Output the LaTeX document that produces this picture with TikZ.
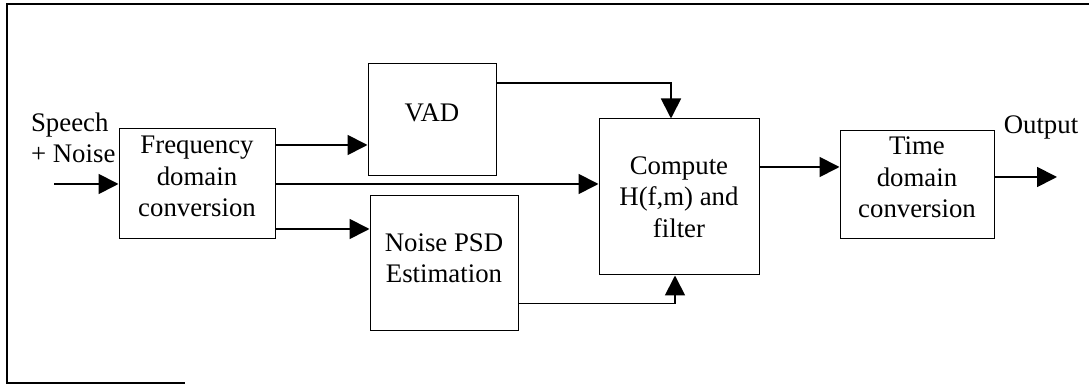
\documentclass[tikz,border=0pt]{standalone}
\usepackage{fontspec}
\setmainfont{Liberation Serif}
\usetikzlibrary{arrows.meta,positioning}
% extra empty line at the bottom, lifts the text in its box
\newcommand{\lift}[1]{\\[#1]\mbox{}}

\begin{document}
\begin{tikzpicture}[
  x=0.5pt,y=0.5pt,
  every node/.style={font=\fontsize{13.4}{15.75}\selectfont},
  B/.style={draw,line width=0.5pt,align=center,inner sep=0pt},
  ar/.style={-{Triangle[length=10pt,width=10pt]},line width=0.9pt},
  fr/.style={line width=0.8pt}
]
\useasboundingbox (0,0) rectangle (1089,385);
% frame (scanned, open on the right)
\draw[fr] (1089,381) -- (7,381) -- (7,2) -- (185,2);

\node[B,minimum width=78pt,minimum height=55pt] (F) at (197,201)
     {Frequency\\domain\\conversion\lift{-8pt}};
\node[B,minimum width=64pt,minimum height=56pt] (V) at (432,265)
     {VAD\lift{-8pt}};
\node[B,minimum width=74pt,minimum height=67.5pt] (N) at (444,121.5)
     {Noise PSD\\Estimation\lift{-10.5pt}};
\node[B,minimum width=80pt,minimum height=78pt] (C) at (679,188)
     {Compute\\H(f,m) and\\filter};
\node[B,minimum width=77pt,minimum height=54pt] (T) at (917,200)
     {Time\\domain\\conversion\lift{-8pt}};

\node[align=left,anchor=west] (in-lbl) at (24,247) {Speech\\+ Noise};
\node (out-lbl) at (1041,258) {Output};
\coordinate (in) at (54,201);
\coordinate (out) at (1057,208);

\draw[ar] (in) -- (in -| F.west);
\draw[ar] ([yshift=19.5pt]F.east) -- ([yshift=19.5pt]F.east -| V.west);
\draw[ar] (F.east) -- (F.east -| C.west);
\draw[ar] ([yshift=-22.5pt]F.east) -- ([yshift=-22.5pt]F.east -| N.west);
\draw[ar] ([yshift=18.5pt]V.east) -| ([xshift=-4pt]C.north);
\draw[ar] ([yshift=-20pt]N.east) -| ([xshift=-2pt]C.south);
\draw[ar] ([yshift=15pt]C.east) -- ([yshift=15pt]C.east -| T.west);
\draw[ar] (out -| T.east) -- (out);
\end{tikzpicture}
\end{document}
